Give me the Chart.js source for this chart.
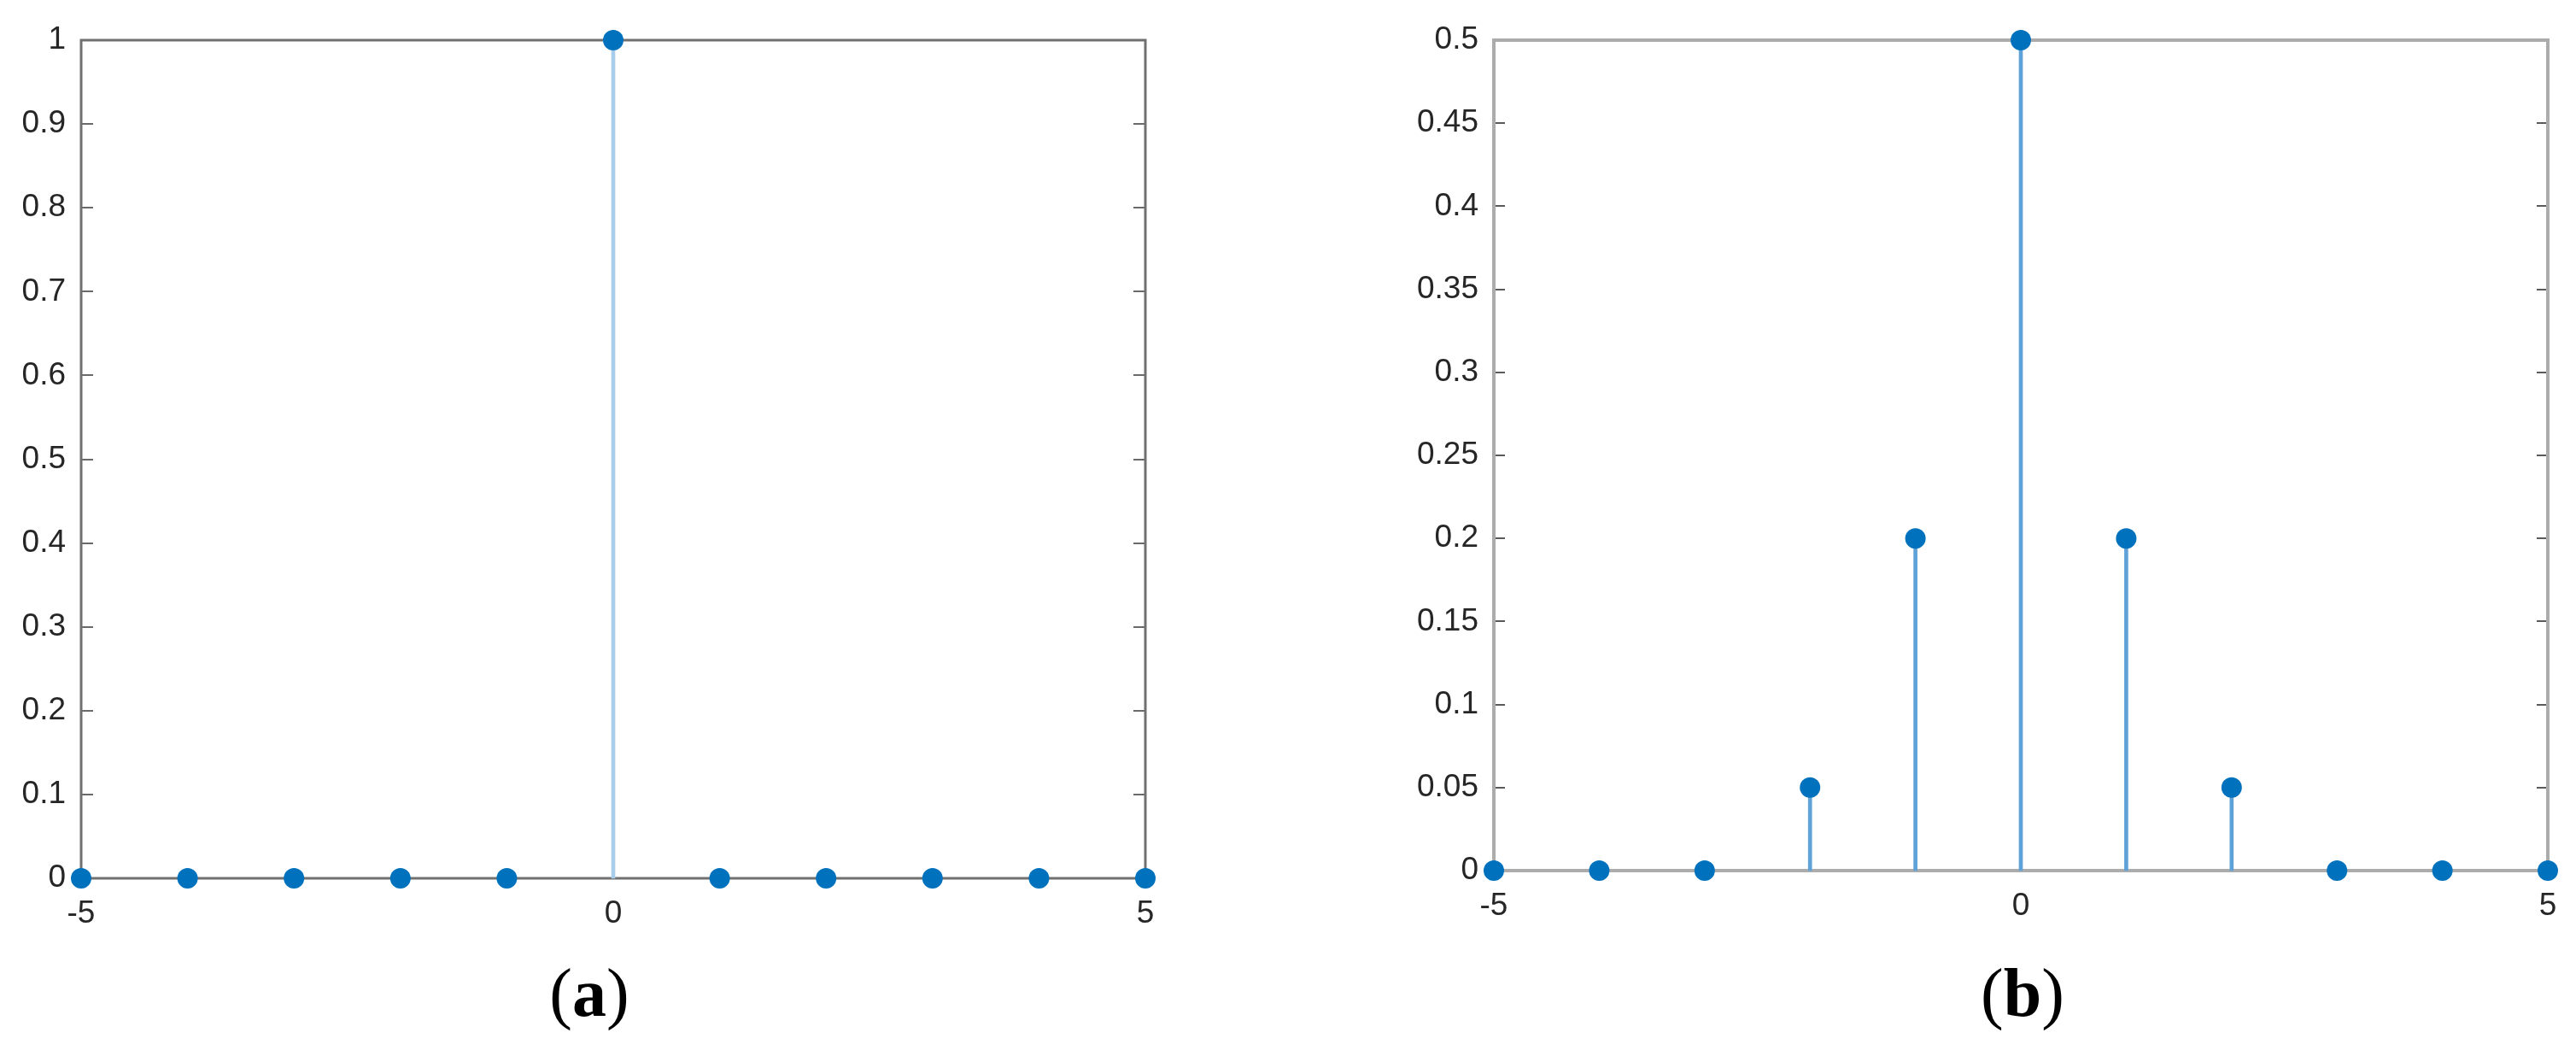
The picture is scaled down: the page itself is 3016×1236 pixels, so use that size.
<!DOCTYPE html>
<html>
<head>
<meta charset="utf-8">
<script src="https://cdn.jsdelivr.net/npm/chart.js@4.4.1/dist/chart.umd.min.js"></script>
<style>
  html, body { margin: 0; padding: 0; background: #ffffff; }
  body { width: 3016px; height: 1236px; position: relative; overflow: hidden; }
  canvas { position: absolute; top: 0; }
  .cap { position: absolute; font-family: "Liberation Serif", "DejaVu Serif", serif; font-size: 80px; color: #000; transform: translateX(-50%); top: 1122px; line-height: 1; }
  .cap b { font-weight: bold; }
</style>
</head>
<body>
<canvas id="chartA" style="left:0px"></canvas>
<canvas id="chartB" style="left:1500px"></canvas>
<div class="cap" style="left:690px">(<b>a</b>)</div>
<div class="cap" style="left:2368px">(<b>b</b>)</div>
<script>
// ---- data ----
const nValues = [-5, -4, -3, -2, -1, 0, 1, 2, 3, 4, 5];
const seriesA = [0, 0, 0, 0, 0, 1, 0, 0, 0, 0, 0];
const seriesB = [0, 0, 0, 0.05, 0.2, 0.5, 0.2, 0.05, 0, 0, 0];
const xTickValues = [-5, 0, 5];
const yStepA = 0.1, yMaxA = 1;
const yStepB = 0.05, yMaxB = 0.5;

const pts = (ys) => nValues.map((x, i) => ({ x: x, y: ys[i] }));

// box + inward ticks drawn from the scales
const boxPlugin = {
  id: 'boxTicks',
  beforeDatasetsDraw(chart, args, opts) {
    const { ctx, chartArea: a, scales } = chart;
    ctx.save();
    // ticks
    ctx.strokeStyle = opts.tickColor;
    ctx.lineWidth = 2;
    const L = opts.tickLen;
    ctx.beginPath();
    scales.y.ticks.forEach(t => {
      const py = Math.round(scales.y.getPixelForValue(t.value));
      ctx.moveTo(a.left, py); ctx.lineTo(a.left + L, py);
      ctx.moveTo(a.right, py); ctx.lineTo(a.right - L, py);
    });
    scales.x.ticks.forEach(t => {
      const px = Math.round(scales.x.getPixelForValue(t.value));
      ctx.moveTo(px, a.bottom); ctx.lineTo(px, a.bottom - L);
      ctx.moveTo(px, a.top); ctx.lineTo(px, a.top + L);
    });
    ctx.stroke();
    // box
    ctx.strokeStyle = opts.boxColor;
    ctx.lineWidth = opts.boxWidth;
    ctx.strokeRect(a.left, a.top, a.right - a.left, a.bottom - a.top);
    ctx.restore();
  }
};

function makeChart(id, w, ys, yStep, yMax, cfg) {
  const cv = document.getElementById(id);
  cv.width = w; cv.height = 1236;
  cv.style.width = w + 'px'; cv.style.height = '1236px';
  return new Chart(cv, {
    type: 'bar',
    data: {
      datasets: [
        {
          type: 'bar',
          data: pts(ys),
          backgroundColor: cfg.stemColor,
          borderWidth: 0,
          barThickness: cfg.stemWidth,
          order: 2,
          clip: false
        },
        {
          type: 'scatter',
          data: pts(ys),
          pointRadius: 12,
          pointBackgroundColor: '#0072BD',
          pointBorderWidth: 0,
          pointBorderColor: '#0072BD',
          order: 1,
          clip: false
        }
      ]
    },
    options: {
      responsive: false,
      animation: false,
      devicePixelRatio: 1,
      layout: { autoPadding: false, padding: { left: 0, right: cfg.padRight, top: 47, bottom: cfg.padBottom } },
      plugins: {
        legend: { display: false },
        tooltip: { enabled: false },
        boxTicks: cfg.box
      },
      scales: {
        x: {
          type: 'linear',
          min: -5, max: 5,
          offset: false,
          grid: { display: false, drawTicks: false },
          border: { display: false },
          afterFit: s => { s.height = 80; },
          afterBuildTicks: s => { s.ticks = xTickValues.map(v => ({ value: v })); },
          ticks: {
            padding: 20,
            color: '#262626',
            font: { family: 'Liberation Sans', size: 37 },
            maxRotation: 0,
            callback: v => String(v)
          }
        },
        y: {
          min: 0, max: yMax,
          grid: { display: false, drawTicks: false },
          border: { display: false },
          afterFit: s => { s.width = cfg.yWidth; },
          ticks: {
            stepSize: yStep,
            padding: 18,
            color: '#262626',
            font: { family: 'Liberation Sans', size: 37 },
            callback: v => String(parseFloat(Number(v).toFixed(2)))
          }
        }
      }
    },
    plugins: [boxPlugin]
  });
}

makeChart('chartA', 1500, seriesA, yStepA, yMaxA, {
  yWidth: 95, padRight: 159, padBottom: 1236 - 1028 - 80 - 47 + 47,
  stemColor: '#a8cdea', stemWidth: 4,
  box: { tickColor: '#6a6a6a', boxColor: '#707070', boxWidth: 3, tickLen: 14 }
});
makeChart('chartB', 1516, seriesB, yStepB, yMaxB, {
  yWidth: 249, padRight: 33, padBottom: 1236 - 1019 - 80,
  stemColor: '#5ea2d8', stemWidth: 4,
  box: { tickColor: '#5a5a5a', boxColor: '#acacac', boxWidth: 4, tickLen: 13 }
});
</script>
</body>
</html>
